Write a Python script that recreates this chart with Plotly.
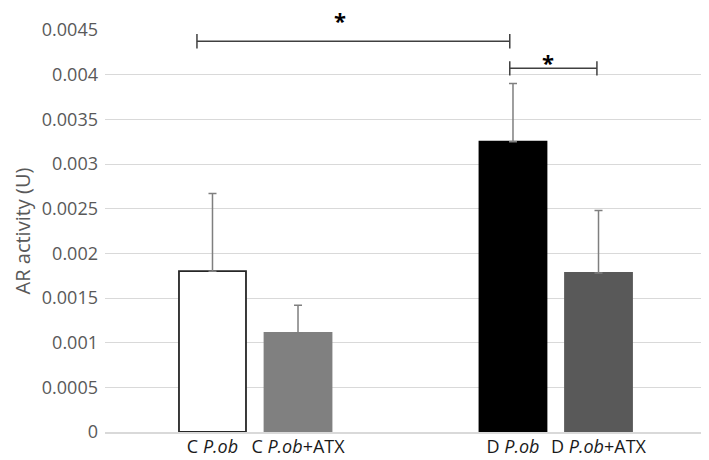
import plotly.graph_objects as go

# data
labels = ["C <i>P.ob</i>", "C <i>P.ob</i>+ATX", "D <i>P.ob</i>", "D <i>P.ob</i>+ATX"]
group_idx = [0, 0, 1, 1]
slot = [-1, 1, -1, 1]
means = [0.0018, 0.00111, 0.00325, 0.00178]
err_up = [0.00087, 0.00031, 0.00065, 0.0007]
bar_colors = ["#ffffff", "#808080", "#000000", "#595959"]
line_colors = ["#262626", "#808080", "#000000", "#595959"]

y_ticks = [0, 0.0005, 0.001, 0.0015, 0.002, 0.0025, 0.003, 0.0035, 0.004, 0.0045]
y_ticktext = ["0", "0.0005", "0.001", "0.0015", "0.002", "0.0025", "0.003", "0.0035", "0.004", "0.0045"]

# significance brackets: (x0, x1, y, star_x, star_top)
brackets = [
    (-0.194, 0.847, 0.004374, 0.282, 0.004800),
    (0.847, 1.137, 0.004071, 0.974, 0.004332),
]

Y_MAX = 0.0045
OFFSET = 0.1423
BAR_W = 0.223
FONT = "Open Sans"
PAGE_PAD = 8  # default body margin of the html page

x_pos = [g + s * OFFSET for g, s in zip(group_idx, slot)]

fig = go.Figure(go.Bar(
    x=x_pos,
    y=means,
    width=BAR_W,
    marker=dict(color=bar_colors, line=dict(color=line_colors, width=1.8)),
    error_y=dict(type="data", array=err_up, arrayminus=[0] * len(err_up),
                 symmetric=False, color="#7f7f7f", thickness=1.5, width=4),
    showlegend=False,
))

tick_h = 0.00008
for x0, x1, yb, sx, sy in brackets:
    fig.add_shape(type="line", x0=x0, x1=x1, y0=yb, y1=yb,
                  line=dict(color="#404040", width=1.5))
    for xe in (x0, x1):
        fig.add_shape(type="line", x0=xe, x1=xe, y0=yb - tick_h, y1=yb + tick_h,
                      line=dict(color="#404040", width=1.5))
    fig.add_annotation(x=sx, y=sy / Y_MAX, yref="paper", text="<b>*</b>", showarrow=False,
                       yanchor="top", font=dict(family=FONT, size=22, color="#000000"))

fig.update_layout(
    width=709 - PAGE_PAD,
    height=460 - PAGE_PAD,
    autosize=False,
    margin=dict(l=105 - PAGE_PAD, r=3, t=30 - PAGE_PAD, b=28),
    plot_bgcolor="white",
    paper_bgcolor="white",
    font=dict(family=FONT, size=18, color="#595959"),
    xaxis=dict(
        range=[-0.5, 1.5],
        tickvals=x_pos,
        ticktext=labels,
        tickfont=dict(color="#1a1a1a", size=18),
        showgrid=False,
        zeroline=False,
        showline=True,
        linecolor="#d9d9d9",
        linewidth=1.5,
        ticks="",
        automargin=False,
        ticklabelstandoff=-2,
    ),
    yaxis=dict(
        range=[0, Y_MAX],
        tickvals=y_ticks,
        ticktext=y_ticktext,
        showgrid=True,
        gridcolor="#d9d9d9",
        gridwidth=1.2,
        zeroline=False,
        ticks="",
        automargin=False,
        ticklabelstandoff=6,
        title=dict(text="AR activity (U)", standoff=5, font=dict(size=20)),
    ),
)

fig.write_html("out.html")
